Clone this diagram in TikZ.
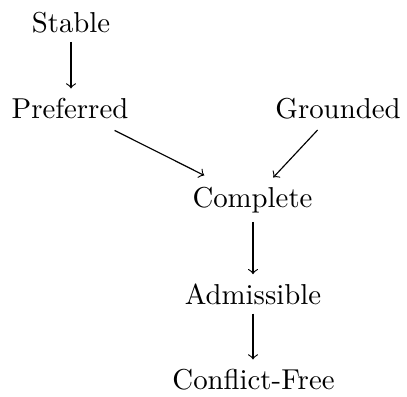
\documentclass[tikz,border=0pt]{standalone}
\begin{document}
\begin{tikzpicture}[x=0.3472pt,y=-0.3472pt,
  lab/.style={anchor=base,inner sep=3pt},
  arr/.style={->,line width=0.4pt}]
\useasboundingbox (0,0) rectangle (407,396);
\node[lab] (stable) at (71,32) {Stable};
\node[lab] (preferred) at (70,118) {Preferred};
\node[lab] (grounded) at (338,118) {Grounded};
\node[lab] (complete) at (252.5,207) {Complete};
\node[lab] (admissible) at (253,304) {Admissible};
\node[lab] (conflict) at (253.5,389) {Conflict-Free};
\draw[arr] (stable.south) -- (stable.south |- preferred.north);
\draw[arr,shorten <=2.2pt,shorten >=1.6pt] (preferred) -- (complete);
\draw[arr,shorten <=1pt] (grounded) -- (complete);
\draw[arr] (complete.south -| admissible.north) -- (admissible.north);
\draw[arr] (admissible.south) -- (admissible.south |- conflict.north);
\end{tikzpicture}
\end{document}
